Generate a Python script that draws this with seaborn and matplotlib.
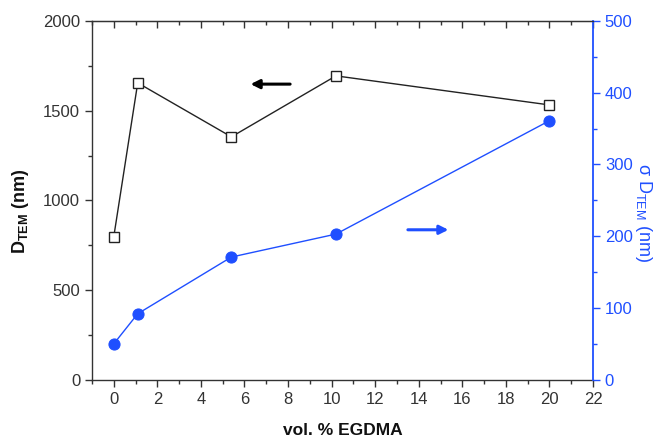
import numpy as np
import pandas as pd
import matplotlib
matplotlib.use("Agg")
import matplotlib.pyplot as plt
from matplotlib.ticker import MultipleLocator
import seaborn as sns

# values
egdma = [0, 1.1, 5.4, 10.2, 20]
d_tem = [797, 1655, 1354, 1694, 1532]
sigma_d_tem = [50, 92, 171, 203, 361]

blue = "#1f4fff"
dark = "#333333"

sns.set_style("ticks")
plt.rcParams["font.family"] = ["Liberation Sans", "DejaVu Sans"]
plt.rcParams["mathtext.fontset"] = "custom"
plt.rcParams["mathtext.rm"] = "Liberation Sans"

df = pd.DataFrame({"x": egdma, "d": d_tem, "s": sigma_d_tem})

fig = plt.figure(figsize=(6.57, 4.37), dpi=100)
ax = fig.add_axes([0.140, 0.131, 0.7626, 0.821])
ax2 = ax.twinx()

sns.lineplot(data=df, x="x", y="d", ax=ax, color="#222222", lw=1,
             marker="s", markersize=7, markerfacecolor="white",
             markeredgecolor="#222222", markeredgewidth=1)
sns.lineplot(data=df, x="x", y="s", ax=ax2, color=blue, lw=1,
             marker="o", markersize=8, markerfacecolor=blue,
             markeredgecolor=blue)

ax.set_xlim(-1, 22)
ax.set_ylim(0, 2000)
ax2.set_ylim(0, 500)

ax.xaxis.set_major_locator(MultipleLocator(2))
ax.xaxis.set_minor_locator(MultipleLocator(1))
ax.yaxis.set_major_locator(MultipleLocator(500))
ax.yaxis.set_minor_locator(MultipleLocator(250))
ax2.yaxis.set_major_locator(MultipleLocator(100))
ax2.yaxis.set_minor_locator(MultipleLocator(50))

for s in ax.spines.values():
    s.set_linewidth(1)
    s.set_color(dark)
ax.spines["right"].set_visible(False)
for name in ("left", "bottom"):
    ax2.spines[name].set_visible(False)
ax2.spines["top"].set_color(dark)
ax2.spines["right"].set_color(blue)
ax2.spines["right"].set_linewidth(1.3)

ax.tick_params(axis="both", which="major", direction="out", length=5,
               width=1, labelsize=12, colors=dark, top=False)
ax.tick_params(axis="both", which="minor", direction="out", length=3,
               width=1, colors=dark, top=False)
ax2.tick_params(axis="y", which="major", direction="out", length=5,
                width=1, labelsize=12, colors=blue)
ax2.tick_params(axis="y", which="minor", direction="out", length=3,
                width=1, colors=blue)

# inward ticks along the top edge, drawn by the twin's x axis
ax2.xaxis.set_visible(True)
ax2.tick_params(axis="x", which="both", top=True, bottom=False,
                labeltop=False, labelbottom=False, direction="in",
                width=1, colors=dark)
ax2.tick_params(axis="x", which="major", length=5)
ax2.tick_params(axis="x", which="minor", length=3)
ax2.set_xlabel("")

ax.set_xlabel("vol. % EGDMA", fontsize=12.5, fontweight="bold",
              labelpad=12, color="#111111")
ax.set_ylabel(r"D$_{\mathregular{TEM}}$ (nm)", fontsize=13,
              fontweight="bold", color="#111111")
ax.yaxis.set_label_coords(-0.122, 0.47)
ax2.set_ylabel(r"σ D$_{\mathregular{TEM}}$ (nm)", fontsize=13, color=blue,
               rotation=270, va="bottom")
ax2.yaxis.set_label_coords(1.08, 0.465)

ax.annotate("", xy=(0.311, 0.824), xytext=(0.401, 0.824),
            xycoords="axes fraction",
            arrowprops=dict(arrowstyle="-|>", color="black", lw=2.2,
                            mutation_scale=13))
ax.annotate("", xy=(0.717, 0.418), xytext=(0.625, 0.418),
            xycoords="axes fraction",
            arrowprops=dict(arrowstyle="-|>", color=blue, lw=2.2,
                            mutation_scale=13))

fig.savefig("out.png", dpi=100)
